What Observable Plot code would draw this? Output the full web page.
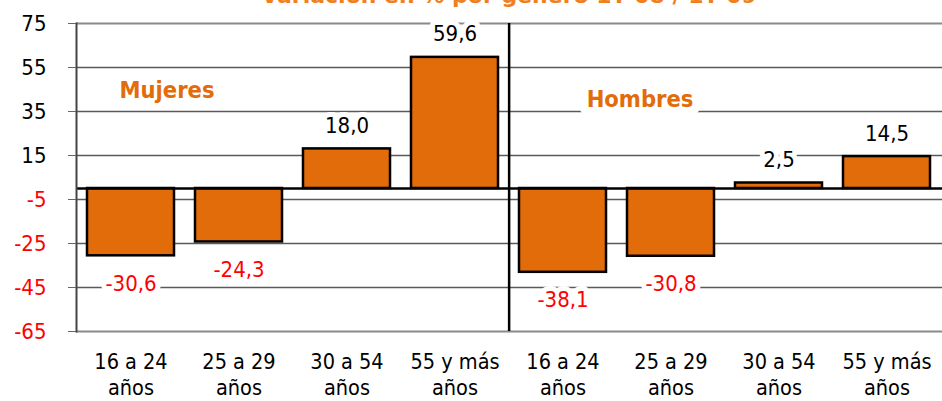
<!DOCTYPE html>
<html><head><meta charset="utf-8">
<script src="https://cdn.jsdelivr.net/npm/d3@7"></script>
<script src="https://cdn.jsdelivr.net/npm/@observablehq/plot@0.6"></script>
<style>
body{margin:0;background:#fff;overflow:hidden}
#wrap{position:relative;width:942px;height:401px;overflow:hidden}
#title{position:absolute;top:-15px;left:76px;width:866px;text-align:center;font-family:"DejaVu Sans",sans-serif;font-weight:bold;font-size:22px;line-height:22px;color:#f07f1e;white-space:nowrap}
svg{position:absolute;top:0;left:0}
</style></head><body><div id="wrap"><div id="title">Variación en % por género 1T 08 / 1T 09</div></div>
<script>
const groups = ["Mujeres", "Hombres"];
const ages = ["16 a 24 años", "25 a 29 años", "30 a 54 años", "55 y más años"];
const valuesMujeres = [-30.6, -24.3, 18.0, 59.6];
const valuesHombres = [-38.1, -30.8, 2.5, 14.5];
const yTicks = [75, 55, 35, 15, -5, -25, -45, -65];

const seriesByGroup = {Mujeres: valuesMujeres, Hombres: valuesHombres};
const data = groups.flatMap(g => ages.map((a, i) => ({key: g + "|" + a, group: g, age: a, value: seriesByGroup[g][i]})));

const W = 942, H = 401, mL = 76, mR = 0, mT = 23, mB = 70;
const step = (W - mL - mR) / data.length;
const orange = "#e36c0a";
const font = '"DejaVu Sans Condensed","DejaVu Sans",sans-serif';
const fmt = v => v.toFixed(1).replace(".", ",");
const ageLabel = k => k.split("|")[1].replace(/ años$/, "\naños");

const plot = Plot.plot({
  width: W, height: H,
  marginLeft: mL, marginRight: mR, marginTop: mT, marginBottom: mB,
  style: {fontFamily: font, fontSize: "22px", fontStretch: "condensed", background: "transparent", color: "black", overflow: "visible"},
  x: {domain: data.map(d => d.key), paddingInner: 0.19, paddingOuter: 0.095, axis: null},
  y: {domain: [-65, 75], axis: null},
  marks: [
    Plot.ruleY(yTicks.filter(t => t !== 75 && t !== -65), {stroke: "#5a5a5a", strokeWidth: 1.3}),
    Plot.ruleY([75, -65], {stroke: "#8a8a8a", strokeWidth: 2.2}),
    Plot.barY(data, {x: "key", y: "value", fill: orange, stroke: "black", strokeWidth: 2.5}),
    Plot.ruleY([0], {stroke: "black", strokeWidth: 2.5}),
    Plot.ruleX([data[ages.length - 1].key], {dx: step / 2, stroke: "black", strokeWidth: 2.5}),
    Plot.frame({anchor: "left", stroke: "#444", strokeWidth: 2}),
    Plot.axisY({ticks: yTicks.filter(t => t >= 0), label: null, tickSize: 8, tickPadding: 22, stroke: "#666", fill: "black", tickFormat: d => d}),
    Plot.axisY({ticks: yTicks.filter(t => t < 0), label: null, tickSize: 8, tickPadding: 22, stroke: "#666", fill: "red", tickFormat: d => d}),
    Plot.axisX({label: null, tickSize: 0, tickPadding: 18, tickFormat: ageLabel, lineHeight: 1.25, fill: "black", fontSize: 21.5}),
    Plot.text(data.filter(d => d.value >= 0), {x: "key", y: "value", text: d => fmt(d.value), dy: -23, fill: "black", stroke: "white", strokeWidth: 10, fontSize: 22}),
    Plot.text(data.filter(d => d.value < 0), {x: "key", y: "value", text: d => fmt(d.value), dy: 28, fill: "red", stroke: "white", strokeWidth: 10, fontSize: 22}),
    Plot.text([groups[0]], {x: () => data[0].key, y: () => 44.5, text: d => d, dx: 36, fill: orange, fontWeight: "bold", fontSize: 23.5, stroke: "white", strokeWidth: 10}),
    Plot.text([groups[1]], {x: () => data[ages.length].key, y: () => 40.5, text: d => d, dx: 77, fill: orange, fontWeight: "bold", fontSize: 23.5, stroke: "white", strokeWidth: 18})
  ]
});
document.getElementById("wrap").prepend(plot);
</script></body></html>
